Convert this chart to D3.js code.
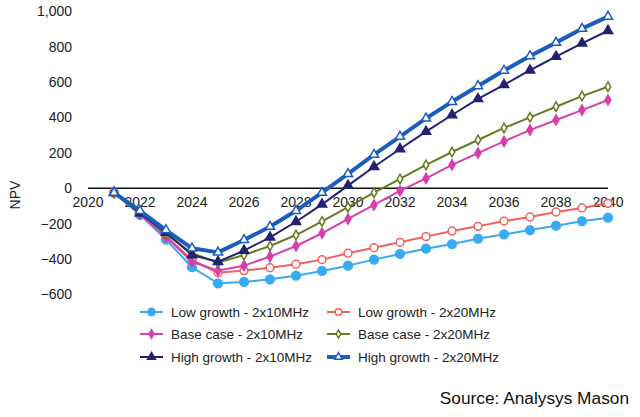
<!DOCTYPE html>
<html>
<head>
<meta charset="utf-8">
<script src="https://cdn.jsdelivr.net/npm/d3@7/dist/d3.min.js"></script>
<style>
  html, body { margin: 0; padding: 0; background: #fff; }
  svg { display: block; font-family: "Liberation Sans", Arial, sans-serif; }
</style>
</head>
<body>
<svg id="chart" width="640" height="417"></svg>
<script>
const years = [2021,2022,2023,2024,2025,2026,2027,2028,2029,2030,2031,2032,2033,2034,2035,2036,2037,2038,2039,2040];
const xTicks = [2020,2022,2024,2026,2028,2030,2032,2034,2036,2038,2040];
const yTicks = [-600,-400,-200,0,200,400,600,800,1000];

const lowGrowth10 = [-25,-150,-290,-446,-537,-529,-514,-494,-467,-437,-403,-371,-341,-315,-285,-260,-236,-211,-186,-166];
const lowGrowth20 = [-25,-142,-270,-405,-477,-465,-449,-429,-403,-367,-336,-305,-273,-241,-215,-185,-162,-134,-111,-85];
const baseCase10  = [-25,-145,-275,-415,-465,-437,-386,-326,-254,-173,-94,-15,56,132,199,265,329,386,442,499];
const baseCase20  = [-25,-135,-258,-367,-420,-377,-326,-264,-187,-107,-25,53,132,205,273,341,401,461,521,574];
const highGrowth10 = [-25,-141,-250,-377,-415,-352,-277,-189,-91,15,122,222,320,414,505,585,667,744,819,890];
const highGrowth20 = [-25,-127,-236,-339,-362,-292,-217,-127,-25,81,190,292,395,489,578,665,747,823,902,970];

const seriesNames = ["Low growth - 2x10MHz","Low growth - 2x20MHz","Base case - 2x10MHz","Base case - 2x20MHz","High growth - 2x10MHz","High growth - 2x20MHz"];
const seriesValues = [lowGrowth10, lowGrowth20, baseCase10, baseCase20, highGrowth10, highGrowth20];

const styles = [
  {color:"#3aaaf0", width:2,   symbol:d3.symbolCircle,   size:60, fill:"#3aaaf0"},
  {color:"#f0605e", width:2,   symbol:d3.symbolCircle,   size:48, fill:"#ffffff"},
  {color:"#d63fae", width:2,   symbol:d3.symbolDiamond,  size:30, fill:"#d63fae"},
  {color:"#667a22", width:2,   symbol:d3.symbolDiamond,  size:26, fill:"#ffffff"},
  {color:"#232272", width:2,   symbol:d3.symbolTriangle, size:38, fill:"#232272"},
  {color:"#1c5cbc", width:4,   symbol:d3.symbolTriangle, size:36, fill:"#ffffff"}
];

const svg = d3.select("#chart");
const x = d3.scaleLinear().domain([2020, 2040]).range([88, 608]);
const y = d3.scaleLinear().domain([-600, 1000]).range([294.5, 11.3]);

// Y tick labels
svg.append("g").selectAll("text").data(yTicks).join("text")
  .attr("x", 72).attr("y", d => y(d)).attr("dy", "0.35em")
  .attr("text-anchor", "end").attr("font-size", 14).attr("fill", "#222")
  .text(d => d3.format(",")(d));

// NPV label
svg.append("text").attr("transform", "translate(20,195) rotate(-90)")
  .attr("text-anchor", "middle").attr("font-size", 14).attr("fill", "#222").text("NPV");

// zero axis line
svg.append("line").attr("x1", x(2020)).attr("x2", x(2040)).attr("y1", y(0)).attr("y2", y(0))
  .attr("stroke", "#111").attr("stroke-width", 1.5);

// X tick labels
svg.append("g").selectAll("text").data(xTicks).join("text")
  .attr("x", d => x(d)).attr("y", y(0) + 19)
  .attr("text-anchor", "middle").attr("font-size", 14).attr("fill", "#222")
  .text(d => d);

const line = d3.line().x((d, i) => x(years[i])).y(d => y(d));

seriesValues.forEach((vals, si) => {
  const st = styles[si];
  const g = svg.append("g");
  g.append("path").datum(vals).attr("d", line)
    .attr("fill", "none").attr("stroke", st.color).attr("stroke-width", st.width)
    .attr("stroke-linejoin", "round");
  g.selectAll("path.m").data(vals).join("path").attr("class", "m")
    .attr("transform", (d, i) => `translate(${x(years[i])},${y(d)})`)
    .attr("d", d3.symbol().type(st.symbol).size(st.size))
    .attr("fill", st.fill).attr("stroke", st.color).attr("stroke-width", 1.5);
});

// Legend
const legendPos = [
  {x:140, y:312}, {x:327, y:312},
  {x:140, y:334}, {x:327, y:334},
  {x:140, y:357}, {x:327, y:357}
];
seriesNames.forEach((name, si) => {
  const st = styles[si];
  const p = legendPos[si];
  const g = svg.append("g").attr("transform", `translate(${p.x},${p.y})`);
  g.append("line").attr("x1", 0).attr("x2", 23).attr("y1", 0).attr("y2", 0)
    .attr("stroke", st.color).attr("stroke-width", st.width);
  g.append("path").attr("transform", "translate(11.5,0)")
    .attr("d", d3.symbol().type(st.symbol).size(st.size * 0.7))
    .attr("fill", st.fill).attr("stroke", st.color).attr("stroke-width", 1.5);
  g.append("text").attr("x", 31).attr("y", 0).attr("dy", "0.35em")
    .attr("font-size", 13.5).attr("fill", "#222").text(name);
});

// Source
svg.append("text").attr("x", 629).attr("y", 404).attr("text-anchor", "end")
  .attr("font-size", 17.3).attr("fill", "#111").text("Source: Analysys Mason");
</script>
</body>
</html>
